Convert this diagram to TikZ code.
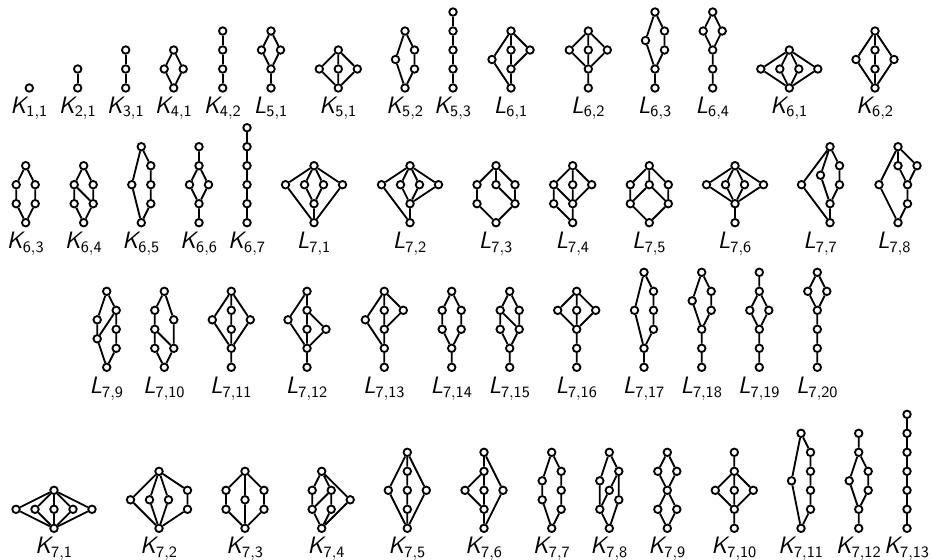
\documentclass[tikz,border=0pt]{standalone}

\newcommand{\latname}[2]{#1$_{\mathsf{#2}}$}

\tikzset{
  elt/.style={circle,draw,fill=white,inner sep=0pt,minimum size=0.15cm},
  lab/.style={font=\fontsize{13.5}{14}\selectfont\sffamily\slshape,anchor=base,inner sep=0pt},
  lat/.style 2 args={shift={(#1,#2)},x=0.38cm,y=0.38cm}
}

\begin{document}
\begin{tikzpicture}[x=0.02cm,y=-0.02cm,line width=1.05pt]
\useasboundingbox (0,0) rectangle (932,560);

% row 1
\begin{scope}[lat={29.3}{88},name prefix=k11-]
\node[elt] (b) at (0,0) {};
\node[lab] (lab) at (0,-1.32) {\latname{K}{1,1}};
\end{scope}
\begin{scope}[lat={77.7}{88},name prefix=k21-]
\foreach \i in {0,1} \node[elt] (c\i) at (0,\i) {};
\draw (c0)--(c1);
\node[lab] (lab) at (0,-1.32) {\latname{K}{2,1}};
\end{scope}
\begin{scope}[lat={125.7}{88},name prefix=k31-]
\foreach \i in {0,...,2} \node[elt] (c\i) at (0,\i) {};
\foreach \i [count=\j] in {0,1} \draw (c\i)--(c\j);
\node[lab] (lab) at (0,-1.32) {\latname{K}{3,1}};
\end{scope}
\begin{scope}[lat={173.7}{88},name prefix=k41-]
\node[elt] (b) at (0,0) {};
\node[elt] (l) at (-0.5,1) {};
\node[elt] (r) at (0.5,1) {};
\node[elt] (t) at (0,2) {};
\draw (b)--(l)--(t)--(r)--(b);
\node[lab] (lab) at (0,-1.32) {\latname{K}{4,1}};
\end{scope}
\begin{scope}[lat={222.7}{88},name prefix=k42-]
\foreach \i in {0,...,3} \node[elt] (c\i) at (0,\i) {};
\foreach \i [count=\j] in {0,...,2} \draw (c\i)--(c\j);
\node[lab] (lab) at (0,-1.32) {\latname{K}{4,2}};
\end{scope}
\begin{scope}[lat={271}{88},name prefix=l51-]
\node[elt] (b) at (0,0) {};
\node[elt] (a) at (0,1) {};
\node[elt] (l) at (-0.5,2) {};
\node[elt] (r) at (0.5,2) {};
\node[elt] (t) at (0,3) {};
\draw (b)--(a)--(l)--(t)--(r)--(a);
\node[lab] (lab) at (0,-1.32) {\latname{L}{5,1}};
\end{scope}
\begin{scope}[lat={338.3}{88},name prefix=k51-]
\node[elt] (b) at (0,0) {};
\node[elt] (l) at (-1,1) {};
\node[elt] (m) at (0,1) {};
\node[elt] (r) at (1,1) {};
\node[elt] (t) at (0,2) {};
\draw (b)--(l)--(t)--(r)--(b) (b)--(m)--(t);
\node[lab] (lab) at (0,-1.32) {\latname{K}{5,1}};
\end{scope}
\begin{scope}[lat={405}{88},name prefix=k52-]
\node[elt] (b) at (0,0) {};
\node[elt] (l) at (-0.5,1.5) {};
\node[elt] (r1) at (0.5,1) {};
\node[elt] (r2) at (0.5,2) {};
\node[elt] (t) at (0,3) {};
\draw (b)--(l)--(t)--(r2)--(r1)--(b);
\node[lab] (lab) at (0,-1.32) {\latname{K}{5,2}};
\end{scope}
\begin{scope}[lat={453}{88},name prefix=k53-]
\foreach \i in {0,...,4} \node[elt] (c\i) at (0,\i) {};
\foreach \i [count=\j] in {0,...,3} \draw (c\i)--(c\j);
\node[lab] (lab) at (0,-1.32) {\latname{K}{5,3}};
\end{scope}
\begin{scope}[lat={511}{88},name prefix=l61-]
\node[elt] (b) at (0,0) {};
\node[elt] (a) at (0,1) {};
\node[elt] (c) at (0,2) {};
\node[elt] (t) at (0,3) {};
\node[elt] (l) at (-1,1.5) {};
\node[elt] (r) at (1,2) {};
\draw (b)--(a)--(c)--(t)--(l)--(b) (a)--(r)--(t);
\node[lab] (lab) at (0,-1.32) {\latname{L}{6,1}};
\end{scope}
\begin{scope}[lat={588.3}{88},name prefix=l62-]
\node[elt] (b) at (0,0) {};
\node[elt] (a) at (0,1) {};
\node[elt] (l) at (-1,2) {};
\node[elt] (m) at (0,2) {};
\node[elt] (r) at (1,2) {};
\node[elt] (t) at (0,3) {};
\draw (b)--(a)--(l)--(t)--(r)--(a)--(m)--(t);
\node[lab] (lab) at (0,-1.32) {\latname{L}{6,2}};
\end{scope}
\begin{scope}[lat={655}{88},name prefix=l63-]
\node[elt] (b) at (0,0) {};
\node[elt] (a) at (0,1) {};
\node[elt] (l) at (-0.5,2.5) {};
\node[elt] (r1) at (0.5,2) {};
\node[elt] (r2) at (0.5,3) {};
\node[elt] (t) at (0,4) {};
\draw (b)--(a)--(l)--(t)--(r2)--(r1)--(a);
\node[lab] (lab) at (0,-1.32) {\latname{L}{6,3}};
\end{scope}
\begin{scope}[lat={712.7}{88},name prefix=l64-]
\node[elt] (b) at (0,0) {};
\node[elt] (a) at (0,1) {};
\node[elt] (c) at (0,2) {};
\node[elt] (l) at (-0.5,3) {};
\node[elt] (r) at (0.5,3) {};
\node[elt] (t) at (0,4) {};
\draw (b)--(a)--(c)--(l)--(t)--(r)--(c);
\node[lab] (lab) at (0,-1.32) {\latname{L}{6,4}};
\end{scope}
\begin{scope}[lat={789.3}{88},name prefix=k61-]
\node[elt] (b) at (0,0) {};
\foreach \x [count=\i] in {-1.5,-0.5,0.5,1.5} \node[elt] (m\i) at (\x,1) {};
\node[elt] (t) at (0,2) {};
\foreach \i in {1,...,4} \draw (b)--(m\i)--(t);
\node[lab] (lab) at (0,-1.32) {\latname{K}{6,1}};
\end{scope}
\begin{scope}[lat={875}{88},name prefix=k62-]
\node[elt] (b) at (0,0) {};
\node[elt] (c1) at (0,1) {};
\node[elt] (c2) at (0,2) {};
\node[elt] (t) at (0,3) {};
\node[elt] (l) at (-1,1.5) {};
\node[elt] (r) at (1,1.5) {};
\draw (b)--(c1)--(c2)--(t)--(l)--(b)--(r)--(t);
\node[lab] (lab) at (0,-1.32) {\latname{K}{6,2}};
\end{scope}

% row 2
\begin{scope}[lat={25.7}{222.7},name prefix=k63-]
\node[elt] (b) at (0,0) {};
\node[elt] (l1) at (-0.5,1) {};
\node[elt] (l2) at (-0.5,2) {};
\node[elt] (r1) at (0.5,1) {};
\node[elt] (r2) at (0.5,2) {};
\node[elt] (t) at (0,3) {};
\draw (b)--(l1)--(l2)--(t)--(r2)--(r1)--(b);
\node[lab] (lab) at (0,-1.36) {\latname{K}{6,3}};
\end{scope}
\begin{scope}[lat={83.7}{222.7},name prefix=k64-]
\node[elt] (b) at (0,0) {};
\node[elt] (l1) at (-0.5,1) {};
\node[elt] (l2) at (-0.5,2) {};
\node[elt] (r1) at (0.5,1) {};
\node[elt] (r2) at (0.5,2) {};
\node[elt] (t) at (0,3) {};
\draw (b)--(l1)--(l2)--(t)--(r2)--(r1)--(b) (l2)--(r1);
\node[lab] (lab) at (0,-1.36) {\latname{K}{6,4}};
\end{scope}
\begin{scope}[lat={141.3}{222.7},name prefix=k65-]
\node[elt] (b) at (0,0) {};
\node[elt] (l) at (-0.5,2) {};
\node[elt] (r1) at (0.5,1) {};
\node[elt] (r2) at (0.5,2) {};
\node[elt] (r3) at (0.5,3) {};
\node[elt] (t) at (0,4) {};
\draw (b)--(l)--(t)--(r3)--(r2)--(r1)--(b);
\node[lab] (lab) at (0,-1.36) {\latname{K}{6,5}};
\end{scope}
\begin{scope}[lat={199}{222.7},name prefix=k66-]
\node[elt] (b) at (0,0) {};
\node[elt] (a) at (0,1) {};
\node[elt] (l) at (-0.5,2) {};
\node[elt] (r) at (0.5,2) {};
\node[elt] (c) at (0,3) {};
\node[elt] (t) at (0,4) {};
\draw (b)--(a)--(l)--(c)--(r)--(a) (c)--(t);
\node[lab] (lab) at (0,-1.36) {\latname{K}{6,6}};
\end{scope}
\begin{scope}[lat={247}{222.7},name prefix=k67-]
\foreach \i in {0,...,5} \node[elt] (c\i) at (0,\i) {};
\foreach \i [count=\j] in {0,...,4} \draw (c\i)--(c\j);
\node[lab] (lab) at (0,-1.36) {\latname{K}{6,7}};
\end{scope}
\begin{scope}[lat={314}{222.7},name prefix=l71-]
\node[elt] (b) at (0,0) {};
\node[elt] (a) at (0,1) {};
\foreach \x [count=\i] in {-1.5,-0.5,0.5,1.5} \node[elt] (n\i) at (\x,2) {};
\node[elt] (t) at (0,3) {};
\foreach \i in {1,...,4} \draw (t)--(n\i);
\draw (n2)--(a)--(n3) (a)--(b) (n1)--(b)--(n4);
\node[lab] (lab) at (0,-1.36) {\latname{L}{7,1}};
\end{scope}
\begin{scope}[lat={410}{222.7},name prefix=l72-]
\node[elt] (b) at (0,0) {};
\node[elt] (a) at (0,1) {};
\foreach \x [count=\i] in {-1.5,-0.5,0.5,1.5} \node[elt] (n\i) at (\x,2) {};
\node[elt] (t) at (0,3) {};
\foreach \i in {1,...,4} \draw (t)--(n\i);
\draw (n2)--(a)--(n3) (n4)--(a)--(b)--(n1);
\node[lab] (lab) at (0,-1.36) {\latname{L}{7,2}};
\end{scope}
\begin{scope}[lat={496}{222.7},name prefix=l73-]
\node[elt] (b) at (0,0) {};
\node[elt] (l1) at (-1,1) {};
\node[elt] (r1) at (1,1) {};
\node[elt] (l2) at (-1,2) {};
\node[elt] (c2) at (0,2) {};
\node[elt] (r2) at (1,2) {};
\node[elt] (t) at (0,3) {};
\draw (b)--(l1)--(l2)--(t)--(r2)--(r1)--(b) (t)--(c2)--(r1);
\node[lab] (lab) at (0,-1.36) {\latname{L}{7,3}};
\end{scope}
\begin{scope}[lat={572.7}{222.7},name prefix=l74-]
\node[elt] (b) at (0,0) {};
\node[elt] (l1) at (-1,1) {};
\node[elt] (c1) at (0,1) {};
\node[elt] (l2) at (-1,2) {};
\node[elt] (c2) at (0,2) {};
\node[elt] (r2) at (1,2) {};
\node[elt] (t) at (0,3) {};
\draw (b)--(l1)--(l2)--(t)--(c2)--(c1)--(b) (t)--(r2)--(c1)--(l2);
\node[lab] (lab) at (0,-1.36) {\latname{L}{7,4}};
\end{scope}
\begin{scope}[lat={649.3}{222.7},name prefix=l75-]
\node[elt] (b) at (0,0) {};
\node[elt] (l1) at (-1,1) {};
\node[elt] (r1) at (1,1) {};
\node[elt] (l2) at (-1,2) {};
\node[elt] (c2) at (0,2) {};
\node[elt] (r2) at (1,2) {};
\node[elt] (t) at (0,3) {};
\draw (b)--(l1)--(l2)--(t)--(r2)--(r1)--(b) (t)--(c2) (l1)--(c2)--(r1);
\node[lab] (lab) at (0,-1.36) {\latname{L}{7,5}};
\end{scope}
\begin{scope}[lat={735}{222.7},name prefix=l76-]
\node[elt] (b) at (0,0) {};
\node[elt] (a) at (0,1) {};
\foreach \x [count=\i] in {-1.5,-0.5,0.5,1.5} \node[elt] (n\i) at (\x,2) {};
\node[elt] (t) at (0,3) {};
\foreach \i in {1,...,4} \draw (t)--(n\i)--(a);
\draw (a)--(b);
\node[lab] (lab) at (0,-1.36) {\latname{L}{7,6}};
\end{scope}
\begin{scope}[lat={830}{222.7},name prefix=l77-]
\node[elt] (b) at (0,0) {};
\node[elt] (a) at (0,1) {};
\node[elt] (l) at (-1.5,2) {};
\node[elt] (m) at (-0.5,2.5) {};
\node[elt] (r2) at (0.5,2) {};
\node[elt] (r3) at (0.5,3) {};
\node[elt] (t) at (0,4) {};
\draw (b)--(a)--(r2)--(r3)--(t)--(m)--(a) (t)--(l)--(b);
\node[lab] (lab) at (-0.5,-1.36) {\latname{L}{7,7}};
\end{scope}
\begin{scope}[lat={898}{222.7},name prefix=l78-]
\node[elt] (b) at (0,0) {};
\node[elt] (r1) at (0.5,1) {};
\node[elt] (r2) at (0.5,2) {};
\node[elt] (c3) at (0,3) {};
\node[elt] (d3) at (1,3) {};
\node[elt] (l) at (-1,2) {};
\node[elt] (t) at (0,4) {};
\draw (b)--(r1)--(r2)--(c3)--(t)--(d3)--(r2) (t)--(l)--(b);
\node[lab] (lab) at (-0.2,-1.36) {\latname{L}{7,8}};
\end{scope}

% row 3
\begin{scope}[lat={106.7}{367.3},name prefix=l79-]
\node[elt] (b) at (0,0) {};
\node[elt] (r1) at (0.5,1) {};
\node[elt] (r2) at (0.5,2) {};
\node[elt] (r3) at (0.5,3) {};
\node[elt] (l1) at (-0.5,1.5) {};
\node[elt] (l2) at (-0.5,2.5) {};
\node[elt] (t) at (0,4) {};
\draw (b)--(r1)--(r2)--(r3)--(t)--(l2)--(l1)--(b) (r3)--(l1);
\node[lab] (lab) at (0,-1.38) {\latname{L}{7,9}};
\end{scope}
\begin{scope}[lat={164.3}{367.3},name prefix=l710-]
\node[elt] (b) at (0,0) {};
\node[elt] (l1) at (-0.5,1) {};
\node[elt] (l2) at (-0.5,2) {};
\node[elt] (l3) at (-0.5,3) {};
\node[elt] (r1) at (0.5,1) {};
\node[elt] (r2) at (0.5,2.5) {};
\node[elt] (t) at (0,4) {};
\draw (b)--(l1)--(l2)--(l3)--(t)--(r2)--(r1)--(b) (l2)--(r1);
\node[lab] (lab) at (0,-1.38) {\latname{L}{7,10}};
\end{scope}
\begin{scope}[lat={231.3}{367.3},name prefix=l711-]
\node[elt] (b) at (0,0) {};
\node[elt] (a) at (0,1) {};
\node[elt] (c2) at (0,2) {};
\node[elt] (c3) at (0,3) {};
\node[elt] (l) at (-1,2.5) {};
\node[elt] (r) at (1,2.5) {};
\node[elt] (t) at (0,4) {};
\draw (b)--(a)--(c2)--(c3)--(t)--(l)--(a)--(r)--(t);
\node[lab] (lab) at (0,-1.38) {\latname{L}{7,11}};
\end{scope}
\begin{scope}[lat={307}{367.3},name prefix=l712-]
\node[elt] (b) at (0,0) {};
\node[elt] (a) at (0,1) {};
\node[elt] (c2) at (0,2) {};
\node[elt] (c3) at (0,3) {};
\node[elt] (l) at (-1,2.5) {};
\node[elt] (r) at (1,2) {};
\node[elt] (t) at (0,4) {};
\draw (b)--(a)--(c2)--(c3)--(t)--(l)--(a)--(r)--(c3);
\node[lab] (lab) at (0,-1.38) {\latname{L}{7,12}};
\end{scope}
\begin{scope}[lat={384.3}{367.3},name prefix=l713-]
\node[elt] (b) at (0,0) {};
\node[elt] (a) at (0,1) {};
\node[elt] (c2) at (0,2) {};
\node[elt] (c3) at (0,3) {};
\node[elt] (l) at (-1,2.5) {};
\node[elt] (r) at (1,3) {};
\node[elt] (t) at (0,4) {};
\draw (b)--(a)--(c2)--(c3)--(t)--(l)--(a) (t)--(r)--(c2);
\node[lab] (lab) at (0,-1.38) {\latname{L}{7,13}};
\end{scope}
\begin{scope}[lat={451.7}{367.3},name prefix=l714-]
\node[elt] (b) at (0,0) {};
\node[elt] (a) at (0,1) {};
\node[elt] (l2) at (-0.5,2) {};
\node[elt] (l3) at (-0.5,3) {};
\node[elt] (r2) at (0.5,2) {};
\node[elt] (r3) at (0.5,3) {};
\node[elt] (t) at (0,4) {};
\draw (b)--(a)--(l2)--(l3)--(t)--(r3)--(r2)--(a);
\node[lab] (lab) at (0,-1.38) {\latname{L}{7,14}};
\end{scope}
\begin{scope}[lat={509.7}{367.3},name prefix=l715-]
\node[elt] (b) at (0,0) {};
\node[elt] (a) at (0,1) {};
\node[elt] (l2) at (-0.5,2) {};
\node[elt] (l3) at (-0.5,3) {};
\node[elt] (r2) at (0.5,2) {};
\node[elt] (r3) at (0.5,3) {};
\node[elt] (t) at (0,4) {};
\draw (b)--(a)--(l2)--(l3)--(t)--(r3)--(r2)--(a) (l3)--(r2);
\node[lab] (lab) at (0,-1.38) {\latname{L}{7,15}};
\end{scope}
\begin{scope}[lat={576.7}{367.3},name prefix=l716-]
\node[elt] (b) at (0,0) {};
\node[elt] (a) at (0,1) {};
\node[elt] (c2) at (0,2) {};
\node[elt] (l) at (-1,3) {};
\node[elt] (m) at (0,3) {};
\node[elt] (r) at (1,3) {};
\node[elt] (t) at (0,4) {};
\draw (b)--(a)--(c2)--(l)--(t)--(r)--(c2)--(m)--(t);
\node[lab] (lab) at (0,-1.38) {\latname{L}{7,16}};
\end{scope}
\begin{scope}[lat={644}{367.3},name prefix=l717-]
\node[elt] (b) at (0,0) {};
\node[elt] (a) at (0,1) {};
\node[elt] (r2) at (0.5,2) {};
\node[elt] (r3) at (0.5,3) {};
\node[elt] (r4) at (0.5,4) {};
\node[elt] (l) at (-0.5,3) {};
\node[elt] (t) at (0,5) {};
\draw (b)--(a)--(r2)--(r3)--(r4)--(t)--(l)--(a);
\node[lab] (lab) at (0,-1.38) {\latname{L}{7,17}};
\end{scope}
\begin{scope}[lat={701.7}{367.3},name prefix=l718-]
\node[elt] (b) at (0,0) {};
\node[elt] (a) at (0,1) {};
\node[elt] (c2) at (0,2) {};
\node[elt] (r3) at (0.5,3) {};
\node[elt] (r4) at (0.5,4) {};
\node[elt] (l) at (-0.5,3.5) {};
\node[elt] (t) at (0,5) {};
\draw (b)--(a)--(c2)--(r3)--(r4)--(t)--(l)--(c2);
\node[lab] (lab) at (0,-1.38) {\latname{L}{7,18}};
\end{scope}
\begin{scope}[lat={759.3}{367.3},name prefix=l719-]
\node[elt] (b) at (0,0) {};
\node[elt] (a1) at (0,1) {};
\node[elt] (a2) at (0,2) {};
\node[elt] (l) at (-0.5,3) {};
\node[elt] (r) at (0.5,3) {};
\node[elt] (c4) at (0,4) {};
\node[elt] (t) at (0,5) {};
\draw (b)--(a1)--(a2)--(l)--(c4)--(r)--(a2) (c4)--(t);
\node[lab] (lab) at (0,-1.38) {\latname{L}{7,19}};
\end{scope}
\begin{scope}[lat={817.3}{367.3},name prefix=l720-]
\node[elt] (b) at (0,0) {};
\node[elt] (a1) at (0,1) {};
\node[elt] (a2) at (0,2) {};
\node[elt] (a3) at (0,3) {};
\node[elt] (l) at (-0.5,4) {};
\node[elt] (r) at (0.5,4) {};
\node[elt] (t) at (0,5) {};
\draw (b)--(a1)--(a2)--(a3)--(l)--(t)--(r)--(a3);
\node[lab] (lab) at (0,-1.38) {\latname{L}{7,20}};
\end{scope}

% row 4
\begin{scope}[lat={54}{528.3},name prefix=k71-]
\node[elt] (b) at (0,0) {};
\foreach \x [count=\i] in {-2,...,2} \node[elt] (m\i) at (\x,1) {};
\node[elt] (t) at (0,2) {};
\foreach \i in {1,...,5} \draw (b)--(m\i)--(t);
\node[lab] (lab) at (0,-1.35) {\latname{K}{7,1}};
\end{scope}
\begin{scope}[lat={159}{528.3},name prefix=k72-]
\node[elt] (b) at (0,0) {};
\node[elt] (l) at (-1.5,1.5) {};
\node[elt] (m1) at (-0.5,1.5) {};
\node[elt] (m2) at (0.5,1.5) {};
\node[elt] (r1) at (1.5,1) {};
\node[elt] (r2) at (1.5,2) {};
\node[elt] (t) at (0,3) {};
\draw (b)--(l)--(t)--(m1)--(b)--(m2)--(t)--(r2)--(r1)--(b);
\node[lab] (lab) at (0,-1.35) {\latname{K}{7,2}};
\end{scope}
\begin{scope}[lat={245}{528.3},name prefix=k73-]
\node[elt] (b) at (0,0) {};
\node[elt] (l1) at (-1,1) {};
\node[elt] (l2) at (-1,2) {};
\node[elt] (r1) at (1,1) {};
\node[elt] (r2) at (1,2) {};
\node[elt] (c) at (0,1.5) {};
\node[elt] (t) at (0,3) {};
\draw (b)--(l1)--(l2)--(t)--(r2)--(r1)--(b)--(c)--(t);
\node[lab] (lab) at (0,-1.35) {\latname{K}{7,3}};
\end{scope}
\begin{scope}[lat={321.7}{528.3},name prefix=k74-]
\node[elt] (b) at (0,0) {};
\node[elt] (l1) at (-0.5,1) {};
\node[elt] (l2) at (-0.5,2) {};
\node[elt] (m1) at (0.5,1) {};
\node[elt] (m2) at (0.5,2) {};
\node[elt] (r) at (1.5,1.5) {};
\node[elt] (t) at (0,3) {};
\draw (b)--(l1)--(l2)--(t)--(m2)--(m1)--(b)--(r)--(t) (l1)--(m2);
\node[lab] (lab) at (0.25,-1.35) {\latname{K}{7,4}};
\end{scope}
\begin{scope}[lat={407.3}{528.3},name prefix=k75-]
\node[elt] (b) at (0,0) {};
\foreach \i in {1,2,3} \node[elt] (c\i) at (0,\i) {};
\node[elt] (t) at (0,4) {};
\node[elt] (l) at (-1,2) {};
\node[elt] (r) at (1,2) {};
\draw (b)--(c1)--(c2)--(c3)--(t)--(l)--(b)--(r)--(t);
\node[lab] (lab) at (0,-1.35) {\latname{K}{7,5}};
\end{scope}
\begin{scope}[lat={484}{528.3},name prefix=k76-]
\node[elt] (b) at (0,0) {};
\foreach \i in {1,2,3} \node[elt] (c\i) at (0,\i) {};
\node[elt] (t) at (0,4) {};
\node[elt] (l) at (-1,2) {};
\node[elt] (r) at (1,2) {};
\draw (b)--(c1)--(c2)--(c3)--(t)--(r)--(b) (c3)--(l)--(c1);
\node[lab] (lab) at (0,-1.35) {\latname{K}{7,6}};
\end{scope}
\begin{scope}[lat={551.7}{528.3},name prefix=k77-]
\node[elt] (b) at (0,0) {};
\node[elt] (l1) at (-0.5,1.5) {};
\node[elt] (l2) at (-0.5,2.5) {};
\node[elt] (r1) at (0.5,1) {};
\node[elt] (r2) at (0.5,2) {};
\node[elt] (r3) at (0.5,3) {};
\node[elt] (t) at (0,4) {};
\draw (b)--(l1)--(l2)--(t)--(r3)--(r2)--(r1)--(b);
\node[lab] (lab) at (0,-1.35) {\latname{K}{7,7}};
\end{scope}
\begin{scope}[lat={609.3}{528.3},name prefix=k78-]
\node[elt] (b) at (0,0) {};
\node[elt] (l1) at (-0.5,1) {};
\node[elt] (l2) at (-0.5,2.5) {};
\node[elt] (m) at (0,2) {};
\node[elt] (r1) at (0.5,1.5) {};
\node[elt] (r2) at (0.5,3) {};
\node[elt] (t) at (0,4) {};
\draw (b)--(l1)--(l2)--(t)--(r2)--(r1)--(b) (r2)--(m)--(l1);
\node[lab] (lab) at (0,-1.35) {\latname{K}{7,8}};
\end{scope}
\begin{scope}[lat={667.3}{528.3},name prefix=k79-]
\node[elt] (b) at (0,0) {};
\node[elt] (l1) at (-0.5,1) {};
\node[elt] (r1) at (0.5,1) {};
\node[elt] (c) at (0,2) {};
\node[elt] (l3) at (-0.5,3) {};
\node[elt] (r3) at (0.5,3) {};
\node[elt] (t) at (0,4) {};
\draw (b)--(l1)--(c)--(r1)--(b) (c)--(l3)--(t)--(r3)--(c);
\node[lab] (lab) at (0,-1.35) {\latname{K}{7,9}};
\end{scope}
\begin{scope}[lat={734.3}{528.3},name prefix=k710-]
\node[elt] (b) at (0,0) {};
\node[elt] (a) at (0,1) {};
\node[elt] (l) at (-1,2) {};
\node[elt] (m) at (0,2) {};
\node[elt] (r) at (1,2) {};
\node[elt] (c3) at (0,3) {};
\node[elt] (t) at (0,4) {};
\draw (b)--(a)--(l)--(c3)--(r)--(a)--(m)--(c3)--(t);
\node[lab] (lab) at (0,-1.35) {\latname{K}{7,10}};
\end{scope}
\begin{scope}[lat={801}{528.3},name prefix=k711-]
\node[elt] (b) at (0,0) {};
\foreach \i in {1,...,4} \node[elt] (r\i) at (0.5,\i) {};
\node[elt] (l) at (-0.5,2.5) {};
\node[elt] (t) at (0,5) {};
\draw (b)--(r1)--(r2)--(r3)--(r4)--(t)--(l)--(b);
\node[lab] (lab) at (0,-1.35) {\latname{K}{7,11}};
\end{scope}
\begin{scope}[lat={858.7}{528.3},name prefix=k712-]
\node[elt] (b) at (0,0) {};
\node[elt] (a) at (0,1) {};
\node[elt] (l) at (-0.5,2.5) {};
\node[elt] (r2) at (0.5,2) {};
\node[elt] (r3) at (0.5,3) {};
\node[elt] (c4) at (0,4) {};
\node[elt] (t) at (0,5) {};
\draw (b)--(a)--(r2)--(r3)--(c4)--(t) (c4)--(l)--(a);
\node[lab] (lab) at (0,-1.35) {\latname{K}{7,12}};
\end{scope}
\begin{scope}[lat={907}{528.3},name prefix=k713-]
\foreach \i in {0,...,6} \node[elt] (c\i) at (0,\i) {};
\foreach \i [count=\j] in {0,...,5} \draw (c\i)--(c\j);
\node[lab] (lab) at (0,-1.35) {\latname{K}{7,13}};
\end{scope}

\end{tikzpicture}
\end{document}
